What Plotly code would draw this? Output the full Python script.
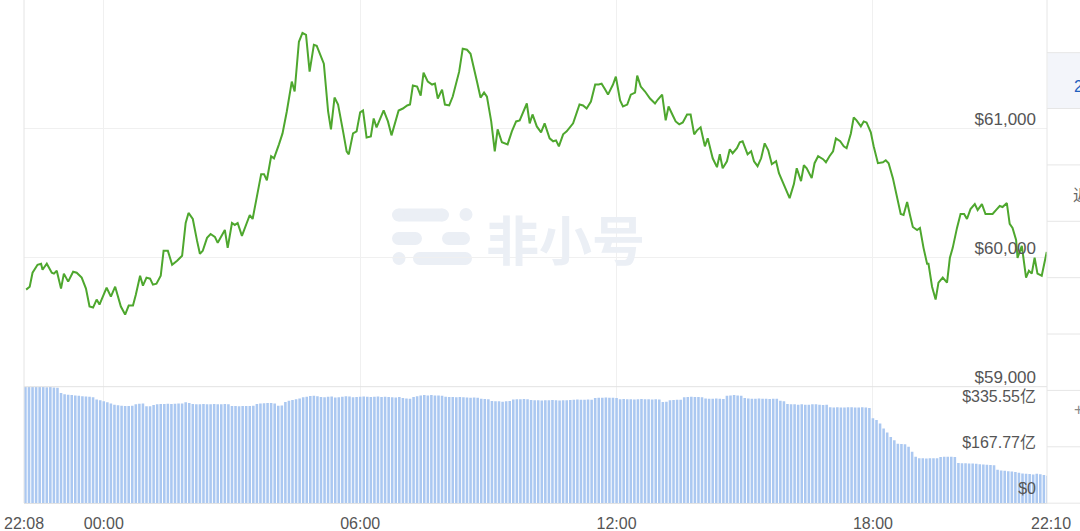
import plotly.graph_objects as go
from datetime import datetime, timedelta

# ---------------- data ----------------
price_times = [
    "22:11", "22:16", "22:20", "22:27", "22:32", "22:34", "22:40", "22:47", "22:50", "22:54",
    "23:00", "23:04", "23:10", "23:17", "23:22", "23:29", "23:35", "23:40", "23:45", "23:50",
    "23:54", "00:04", "00:10", "00:16", "00:24", "00:30", "00:35", "00:41", "00:45", "00:51",
    "00:55", "01:00", "01:05", "01:09", "01:14", "01:20", "01:24", "01:30", "01:36", "01:43",
    "01:50", "01:55", "01:59", "02:05", "02:11", "02:15", "02:19", "02:25", "02:30", "02:36",
    "02:40", "02:50", "02:54", "03:00", "03:04", "03:08", "03:14", "03:19", "03:25", "03:29",
    "03:41", "03:45", "03:49", "03:55", "03:59", "04:06", "04:11", "04:17", "04:20", "04:24",
    "04:28", "04:34", "04:39", "04:44", "04:49", "04:55", "04:59", "05:09", "05:15", "05:19",
    "05:24", "05:29", "05:36", "05:41", "05:44", "05:50", "05:55", "06:00", "06:04", "06:09",
    "06:15", "06:19", "06:23", "06:33", "06:39", "06:44", "06:54", "07:00", "07:06", "07:10",
    "07:14", "07:20", "07:25", "07:29", "07:35", "07:41", "07:45", "07:49", "07:55", "07:59",
    "08:05", "08:10", "08:19", "08:24", "08:30", "08:35", "08:44", "08:49", "08:54", "08:58",
    "09:04", "09:09", "09:13", "09:19", "09:27", "09:33", "09:39", "09:44", "09:54", "09:58",
    "10:02", "10:08", "10:14", "10:19", "10:26", "10:31", "10:35", "10:39", "10:45", "10:50",
    "10:59", "11:08", "11:13", "11:18", "11:24", "11:30", "11:35", "11:39", "11:44", "11:48",
    "11:55", "11:59", "12:05", "12:09", "12:15", "12:20", "12:26", "12:29", "12:34", "12:40",
    "12:47", "12:54", "12:58", "13:04", "13:09", "13:13", "13:19", "13:23", "13:28", "13:33",
    "13:39", "13:44", "13:49", "13:53", "13:58", "14:04", "14:08", "14:15", "14:21", "14:25",
    "14:29", "14:35", "14:39", "14:43", "14:49", "14:53", "14:57", "15:04", "15:09", "15:13",
    "15:18", "15:23", "15:28", "15:33", "15:38", "15:44", "15:48", "15:55", "16:03", "16:09",
    "16:13", "16:19", "16:23", "16:27", "16:34", "16:38", "16:43", "16:50", "16:54", "16:59",
    "17:04", "17:08", "17:14", "17:19", "17:23", "17:29", "17:33", "17:37", "17:43", "17:47",
    "17:51", "17:57", "18:01", "18:07", "18:14", "18:18", "18:22", "18:28", "18:32", "18:39",
    "18:43", "18:48", "18:52", "18:56", "19:02", "19:06", "19:11", "19:16", "19:18", "19:23",
    "19:28", "19:32", "19:38", "19:44", "19:48", "19:52", "19:58", "20:03", "20:08", "20:12",
    "20:17", "20:23", "20:27", "20:33", "20:38", "20:43", "20:48", "20:54", "20:58", "21:02",
    "21:08", "21:12", "21:16", "21:21", "21:23", "21:29", "21:35", "21:39", "21:43", "21:47",
    "21:51", "21:57", "22:04",
]

prices = [
    59753, 59776, 59884, 59946, 59954, 59907, 59954, 59884, 59877, 59900,
    59761, 59877, 59815, 59892, 59884, 59846, 59761, 59622, 59614, 59676,
    59637, 59768, 59699, 59776, 59622, 59560, 59629, 59629, 59714, 59861,
    59784, 59846, 59838, 59792, 59799, 59861, 60054, 60054, 59946, 59977,
    60016, 60270, 60348, 60301, 60131, 60031, 60054, 60155, 60185, 60162,
    60116, 60216, 60077, 60270, 60255, 60270, 60170, 60247, 60332, 60301,
    60649, 60649, 60602, 60788, 60772, 60880, 60965, 61135, 61251, 61367,
    61290, 61676, 61745, 61730, 61444, 61653, 61645, 61506, 61135, 60996,
    61243, 61189, 60981, 60826, 60803, 60965, 60981, 61128, 61143, 60934,
    60942, 61081, 61012, 61143, 61058, 60950, 61143, 61158, 61182, 61189,
    61336, 61328, 61259, 61436, 61367, 61344, 61351, 61236, 61305, 61189,
    61182, 61251, 61444, 61622, 61614, 61583, 61367, 61243, 61282, 61251,
    61058, 60826, 60996, 60896, 60880, 60981, 61058, 61066, 61197, 61043,
    61112, 61019, 60973, 61043, 60927, 60904, 60911, 60865, 60958, 60981,
    61043, 61189, 61182, 61158, 61212, 61344, 61344, 61351, 61305, 61266,
    61344, 61405, 61220, 61174, 61189, 61266, 61282, 61413, 61328, 61290,
    61236, 61197, 61228, 61266, 61066, 61174, 61104, 61058, 61035, 61050,
    61112, 61112, 60958, 60989, 61012, 60865, 60927, 60772, 60703, 60803,
    60695, 60749, 60842, 60811, 60850, 60896, 60904, 60803, 60826, 60749,
    60711, 60772, 60888, 60834, 60726, 60749, 60656, 60572, 60463, 60572,
    60695, 60595, 60718, 60695, 60618, 60734, 60788, 60765, 60741, 60788,
    60826, 60927, 60904, 60865, 60850, 60965, 61089, 61066, 61019, 61058,
    61050, 60973, 60865, 60734, 60741, 60757, 60734, 60618, 60517, 60340,
    60332, 60433, 60332, 60239, 60216, 60232, 60077, 59954, 59954, 59776,
    59676, 59807, 59846, 59807, 60000, 60077, 60232, 60340, 60340, 60301,
    60378, 60417, 60371, 60417, 60340, 60340, 60340, 60378, 60402, 60394,
    60425, 60263, 60232, 60139, 60000, 60093, 59846, 59900, 59877, 60000,
    59877, 59861, 60046,
]

# 24h volume in 亿 USD, one bar every 5 minutes starting at 22:10
volume_yi = [
    427, 428, 428, 427, 428, 427, 426, 427, 425, 424,
    405,
    400, 398, 397, 396,
    395, 393, 392, 391, 389,
    381, 378, 374, 371,
    366, 362, 360,
    358, 357, 357, 358,
    363, 365, 366,
    356, 356,
    361, 363, 364, 364, 365, 364, 365, 366, 366,
    371,
    368,
    364, 363, 363, 364, 363, 363, 364, 363, 363, 364, 363,
    357, 357, 356, 357, 357, 357, 358,
    364, 366, 367, 368, 368, 366,
    358, 359,
    372, 376, 379, 382, 385,
    389, 391, 394, 395, 393,
    390, 389, 391, 392, 388, 389, 391, 393, 392, 389, 390, 391, 392, 391, 390, 391, 392,
    390, 391, 390, 389, 388, 390,
    386, 385,
    384, 390, 393,
    396, 397, 396, 397, 396, 396, 395,
    391, 390, 390, 389, 390,
    389, 388, 387, 388, 387,
    384, 383, 382,
    375, 374, 374, 373, 374, 375,
    381, 382, 382, 383, 382,
    379, 378, 378, 377, 378, 378, 379, 378, 377, 378, 378, 379,
    380, 381, 380, 380, 381, 380,
    386, 387, 387, 388, 387, 387, 386,
    382, 383, 382, 382, 381, 382, 383, 382, 382, 381, 382, 381,
    372, 373,
    378, 379, 380, 380,
    389, 390, 391, 390, 390, 389,
    385, 384, 384, 385, 384, 383,
    395, 396, 397, 396, 395,
    386, 385, 384, 384, 385, 384, 384, 383, 384, 384,
    376, 374,
    364, 363, 363, 362, 363, 362, 362, 363, 363, 362, 361, 362,
    352, 351, 352, 351, 351, 352, 352, 351, 351, 352, 351, 350,
    312, 305, 293, 274, 259, 243, 231,
    218, 217, 216,
    207, 189, 170,
    165, 165, 164, 165, 165, 165,
    169, 170, 170, 170, 169,
    147, 146, 146, 145, 145, 144, 143, 142, 141, 140, 139,
    122, 120, 119, 117, 116, 114,
    111, 109, 108, 107, 105, 108, 106, 103, 100,
]

x_tick_labels = ["22:08", "00:00", "06:00", "12:00", "18:00", "22:10"]
price_ticks = [59000, 60000, 61000]
price_tick_labels = ["$59,000", "$60,000", "$61,000"]
volume_ticks = [0, 167.77, 335.55]
volume_tick_labels = ["$0", "$167.77亿", "$335.55亿"]

# ---------------- build time stamps ----------------
day0 = datetime(2024, 3, 20)
start = day0 + timedelta(hours=22, minutes=8)
end = start + timedelta(days=1, minutes=2)


def to_datetimes(times):
    out, day, prev = [], 0, None
    for t in times:
        h, m = map(int, t.split(":"))
        mins = h * 60 + m
        if prev is not None and mins < prev:
            day += 1
        prev = mins
        out.append(day0 + timedelta(days=day, minutes=mins))
    return out


price_dt = to_datetimes(price_times)
first_bar = start + timedelta(minutes=2)
volume_dt = [first_bar + timedelta(minutes=5 * i) for i in range(len(volume_yi))]

tick_dt = [start,
           day0 + timedelta(days=1, hours=0),
           day0 + timedelta(days=1, hours=6),
           day0 + timedelta(days=1, hours=12),
           day0 + timedelta(days=1, hours=18),
           end]

# ---------------- geometry helpers ----------------
W, H = 1080, 531
L, R, T, B = 24, 29, 0, 28
PW, PH = W - L - R, H - T - B


def px(x):
    return (x - L) / PW


def py(y):
    return (H - B - y) / PH


split = py(386.7)
TEXT = "#555555"
FONT = "Liberation Sans, Arial, Noto Sans CJK SC, sans-serif"

fig = go.Figure()
fig.add_trace(go.Bar(
    x=volume_dt, y=volume_yi, xaxis="x", yaxis="y2",
    marker=dict(color="#abc8f1", line=dict(width=0)),
    hoverinfo="skip",
))
fig.add_trace(go.Scatter(
    x=price_dt, y=prices, xaxis="x", yaxis="y", mode="lines",
    line=dict(color="#4ea72e", width=2), hoverinfo="skip",
))

shapes = []
# separator between price & volume panes and left border
shapes.append(dict(type="line", xref="paper", yref="paper", x0=0, x1=1, y0=split, y1=split,
                   line=dict(color="#e2e2e2", width=1), layer="above"))
shapes.append(dict(type="line", xref="paper", yref="paper", x0=0, x1=0, y0=0, y1=1,
                   line=dict(color="#e4e4e4", width=1), layer="above"))

# watermark logo
WM = "#ebeff5"


def rect(x1, x2, y1, y2):
    return dict(type="rect", xref="paper", yref="paper", x0=px(x1), x1=px(x2),
                y0=py(y2), y1=py(y1), fillcolor=WM, line=dict(width=0), layer="below")


def circ(cx, cy, r):
    return dict(type="circle", xref="paper", yref="paper", x0=px(cx - r), x1=px(cx + r),
                y0=py(cy + r), y1=py(cy - r), fillcolor=WM, line=dict(width=0), layer="below")


def pill(x1, x2, yc, h):
    r = h / 2
    return [rect(x1 + r, x2 - r, yc - r, yc + r), circ(x1 + r, yc, r), circ(x2 - r, yc, r)]


shapes += pill(392, 449, 215, 13)
shapes.append(circ(466, 214.5, 6.5))
shapes += pill(392, 422, 238.5, 13)
shapes += pill(442, 470, 238.5, 13)
shapes.append(circ(399, 258.5, 6.5))
shapes += pill(413, 472, 258.5, 13)

# right side panel (partially visible table)
shapes.append(dict(type="rect", xref="paper", yref="paper", x0=px(1047), x1=px(1085),
                   y0=py(504), y1=py(-2), fillcolor="white", line=dict(width=0), layer="above"))
shapes.append(dict(type="rect", xref="paper", yref="paper", x0=px(1047.5), x1=px(1085),
                   y0=py(108.5), y1=py(52.7), fillcolor="#f3f5fa", line=dict(width=0), layer="above"))
shapes.append(dict(type="line", xref="paper", yref="paper", x0=px(1047), x1=px(1047),
                   y0=py(504), y1=py(-2), line=dict(color="#e6e6e6", width=1), layer="above"))
for yy in [52.7, 108.5, 164.9, 221.3, 277.7, 334.0, 390.4, 446.8, 503.2]:
    shapes.append(dict(type="line", xref="paper", yref="paper", x0=px(1047), x1=px(1085),
                       y0=py(yy), y1=py(yy), line=dict(color="#e6e6e6", width=1), layer="above"))

annotations = [
    dict(text="<b>非小号</b>", xref="paper", yref="paper", x=px(565), y=py(238),
         showarrow=False, font=dict(family="Noto Sans CJK SC", size=53, color=WM)),
    dict(text="24h", xref="paper", yref="paper", x=px(1072), y=py(76), xanchor="left",
         showarrow=False, font=dict(family=FONT, size=16, color="#1f5fbf")),
    dict(text="近", xref="paper", yref="paper", x=px(1071), y=py(194), xanchor="left",
         showarrow=False, font=dict(family="Noto Sans CJK SC", size=16, color="#666666")),
    dict(text="+", xref="paper", yref="paper", x=px(1072), y=py(420), xanchor="left",
         showarrow=False, font=dict(family=FONT, size=16, color="#888888")),
]

fig.update_layout(
    width=W, height=H,
    margin=dict(l=L, r=R, t=T, b=B, autoexpand=False),
    paper_bgcolor="white", plot_bgcolor="white",
    showlegend=False, hovermode=False, bargap=0.28,
    xaxis=dict(
        type="date", range=[start, end], anchor="y2",
        tickmode="array", tickvals=tick_dt, ticktext=x_tick_labels,
        showgrid=True, gridcolor="#f0f0f0", gridwidth=1,
        showline=True, linecolor="#e2e2e2", linewidth=1,
        ticks="outside", ticklen=6, tickcolor="rgba(0,0,0,0)",
        tickfont=dict(family=FONT, size=16, color=TEXT),
        zeroline=False, automargin=False, fixedrange=True,
    ),
    yaxis=dict(
        domain=[split, 1], range=[59000, 62000], side="right", anchor="x",
        tickmode="array", tickvals=price_ticks, ticktext=price_tick_labels,
        ticklabelposition="inside", ticklabelshift=-10, ticklabelstandoff=12,
        ticklabeloverflow="allow",
        ticks="", showgrid=True, gridcolor="#f0f0f0", zeroline=False,
        tickfont=dict(family=FONT, size=17, color=TEXT),
        automargin=False, fixedrange=True,
    ),
    yaxis2=dict(
        domain=[0, split], range=[0, 428], side="right", anchor="x",
        tickmode="array", tickvals=volume_ticks, ticktext=volume_tick_labels,
        ticklabelposition="inside", ticklabelshift=-15, ticklabelstandoff=12,
        ticklabeloverflow="allow",
        ticks="", showgrid=False, zeroline=False,
        tickfont=dict(family=FONT, size=16, color=TEXT),
        automargin=False, fixedrange=True,
    ),
    shapes=shapes,
    annotations=annotations,
)

fig.write_html(
    "out.html",
    config={"displayModeBar": False, "staticPlot": True},
    post_script="document.body.style.margin='0';document.body.style.overflow='hidden';",
)
